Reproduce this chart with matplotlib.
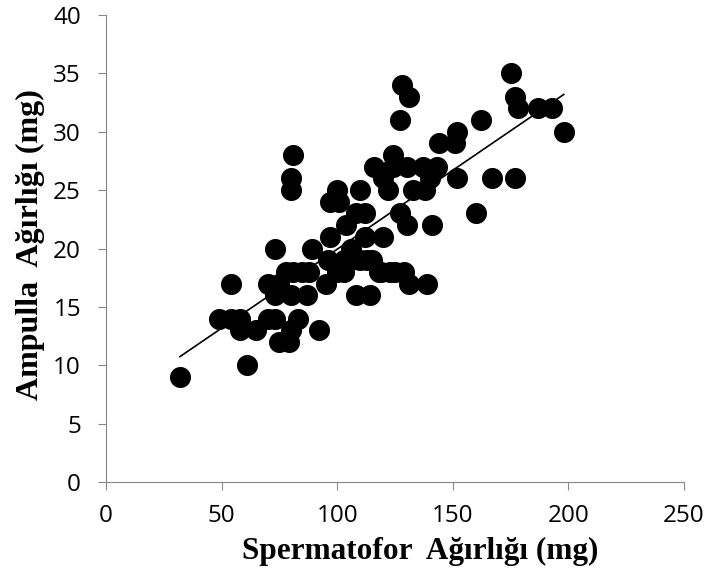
import numpy as np
import matplotlib
matplotlib.use('AGG')
import matplotlib.pyplot as plt

# spermatophore weight (mg) vs ampulla weight (mg)
sperm = [32, 61, 49, 54, 58, 54, 58, 65, 70, 73, 70, 73, 75, 73, 75, 79, 80,
         78, 80, 81, 80, 80, 81, 83, 85, 87, 88, 89, 92, 95, 96, 97, 97, 100,
         100, 101, 103, 104, 106, 108, 108, 110, 110, 112, 112, 114, 116, 115,
         118, 120, 120, 122, 124, 124, 125, 127, 127, 128, 129, 130, 130, 131,
         131, 133, 137, 138, 139, 140, 141, 143, 144, 151, 152, 152, 160, 162,
         167, 175, 177, 178, 177, 187, 193, 198, 103, 106, 113, 119, 123]
ampulla = [9, 10, 14, 14, 14, 17, 13, 13, 14, 14, 17, 16, 17, 20, 12, 12, 13,
           18, 16, 18, 25, 26, 28, 14, 18, 16, 18, 20, 13, 17, 19, 21, 24, 25,
           18, 24, 19, 22, 20, 23, 16, 25, 19, 21, 23, 16, 27, 19,
           18, 26, 21, 25, 27, 28, 18, 23, 31, 34, 18, 22, 27, 33,
           17, 25, 27, 25, 17, 26, 22, 27, 29, 29, 30, 26, 23, 31,
           26, 35, 33, 32, 26, 32, 32, 30, 18, 19, 19, 18, 18]

x_ticks = [0, 50, 100, 150, 200, 250]
y_ticks = [0, 5, 10, 15, 20, 25, 30, 35, 40]

fig = plt.figure(figsize=(7.11, 5.74), dpi=100)
ax = fig.add_axes([0.149, 0.160, 0.813, 0.814])

ax.scatter(sperm, ampulla, s=200, color='black', zorder=3)

# linear trendline over the data range
k, b = np.polyfit(sperm, ampulla, 1)
xs = np.array([min(sperm), max(sperm)])
ax.plot(xs, k * xs + b, color='black', linewidth=1.2, zorder=4)

ax.set_xlim(0, 250)
ax.set_ylim(0, 40)
ax.set_xticks(x_ticks)
ax.set_yticks(y_ticks)
for s in ['top', 'right']:
    ax.spines[s].set_visible(False)
for s in ['left', 'bottom']:
    ax.spines[s].set_color('#868686')
ax.tick_params(direction='out', color='#868686', length=6, labelsize=17.5)
ax.tick_params(axis='x', pad=10)
ax.tick_params(axis='y', pad=12)
for lbl in ax.get_xticklabels() + ax.get_yticklabels():
    lbl.set_family('Open Sans')

ax.set_xlabel('Spermatofor  Ağırlığı (mg)', family='Liberation Serif',
              fontweight='bold', fontsize=22.5)
ax.set_ylabel('Ampulla  Ağırlığı (mg)', family='Liberation Serif',
              fontweight='bold', fontsize=23)
ax.xaxis.set_label_coords(0.543, -0.118)
ax.yaxis.set_label_coords(-0.106, 0.508)

fig.savefig('out.png', dpi=100)
